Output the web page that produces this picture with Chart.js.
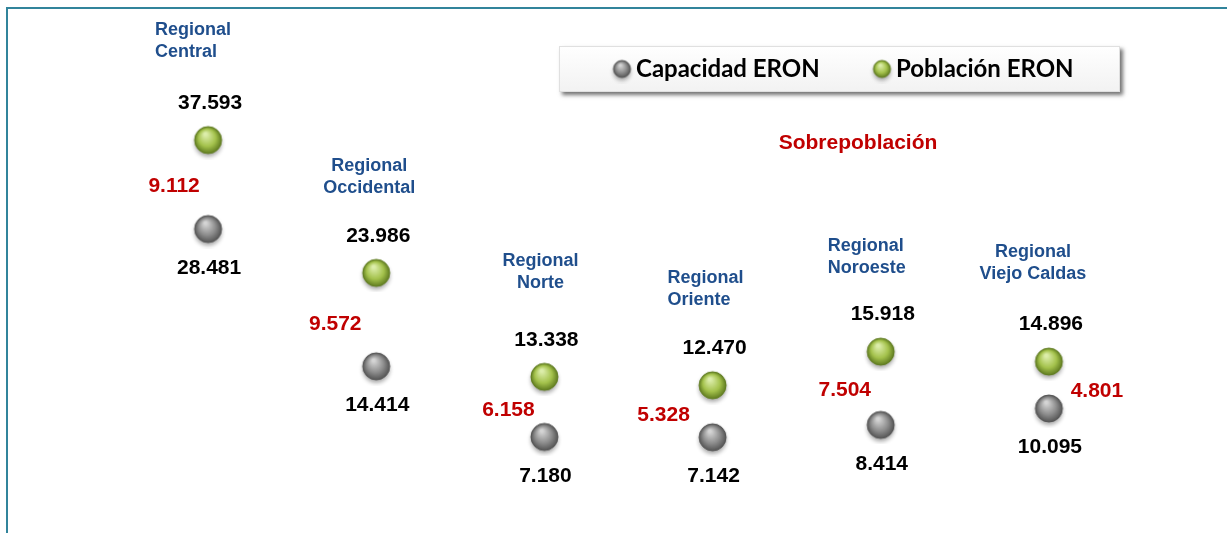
<!DOCTYPE html>
<html>
<head>
<meta charset="utf-8">
<script src="https://cdn.jsdelivr.net/npm/chart.js@4.4.0/dist/chart.umd.min.js"></script>
<style>
  html, body { margin: 0; padding: 0; background: #fff; }
  #wrap { width: 1227px; height: 533px; position: relative; }
</style>
</head>
<body>
<div id="wrap"><canvas id="eronChart"></canvas></div>
<script>
const regionales = [
  ["Regional", "Central"], ["Regional", "Occidental"], ["Regional", "Norte"],
  ["Regional", "Oriente"], ["Regional", "Noroeste"], ["Regional", "Viejo Caldas"]
];
const capacidad = [28481, 14414, 7180, 7142, 8414, 10095];
const poblacion = [37593, 23986, 13338, 12470, 15918, 14896];
const sobrepoblacion = [9112, 9572, 6158, 5328, 7504, 4801];

// where each region title and red label sits, relative to its points
const titlePos = [
  { dx: -53, dy: -110, align: "left" }, { dx: -7, dy: -107, align: "center" },
  { dx: -4, dy: -116, align: "center" }, { dx: -45, dy: -107, align: "left" },
  { dx: -53, dy: -106, align: "left" }, { dx: -16, dy: -110, align: "center" }
];
const diffPos = [
  { dx: -34, dy: 2 }, { dx: -41, dy: 5 }, { dx: -36, dy: 3 },
  { dx: -49, dy: 4 }, { dx: -36, dy: 2 }, { dx: 48, dy: 6 }
];

function fmt(n) {
  return String(n).replace(/\B(?=(\d{3})+(?!\d))/g, ".");
}

function makeSphere(r, light, base, dark) {
  const size = 2 * r + 12;
  const c = document.createElement("canvas");
  c.width = size; c.height = size;
  const g = c.getContext("2d");
  const cx = size / 2, cy = size / 2;
  g.shadowColor = "rgba(0,0,0,0.35)";
  g.shadowBlur = 4;
  g.shadowOffsetY = 3;
  const grad = g.createRadialGradient(cx - r * 0.2, cy - r * 0.45, r * 0.1, cx, cy, r);
  grad.addColorStop(0, light);
  grad.addColorStop(0.6, base);
  grad.addColorStop(1, dark);
  g.fillStyle = grad;
  g.beginPath();
  g.arc(cx, cy, r, 0, Math.PI * 2);
  g.fill();
  g.shadowColor = "transparent";
  g.strokeStyle = dark;
  g.lineWidth = 1;
  g.stroke();
  return c;
}

const graySphere = makeSphere(13.5, "#d4d4d4", "#8c8c8c", "#555555");
const greenSphere = makeSphere(13.5, "#dcedaa", "#a4c24c", "#607c20");
const grayMini = makeSphere(8.5, "#d4d4d4", "#8c8c8c", "#555555");
const greenMini = makeSphere(8.5, "#dcedaa", "#a4c24c", "#607c20");

const framePlugin = {
  id: "frame",
  beforeDraw(chart) {
    const ctx = chart.ctx;
    ctx.save();
    ctx.fillStyle = "#fff";
    ctx.fillRect(0, 0, chart.width, chart.height);
    ctx.strokeStyle = "#31849b";
    ctx.lineWidth = 2;
    ctx.beginPath();
    ctx.moveTo(7, chart.height);
    ctx.lineTo(7, 8);
    ctx.lineTo(chart.width, 8);
    ctx.stroke();
    ctx.restore();
  }
};

const legendPlugin = {
  id: "boxLegend",
  afterDraw(chart) {
    const ctx = chart.ctx;
    const x = 559, y = 46, w = 561, h = 46;
    ctx.save();
    ctx.shadowColor = "rgba(0,0,0,0.55)";
    ctx.shadowBlur = 4;
    ctx.shadowOffsetX = 3;
    ctx.shadowOffsetY = 3;
    const grad = ctx.createLinearGradient(0, y, 0, y + h);
    grad.addColorStop(0, "#ffffff");
    grad.addColorStop(1, "#f2f2f2");
    ctx.fillStyle = grad;
    ctx.fillRect(x, y, w, h);
    ctx.shadowColor = "transparent";
    ctx.strokeStyle = "#e0e0e0";
    ctx.lineWidth = 1;
    ctx.strokeRect(x + 0.5, y + 0.5, w - 1, h - 1);

    ctx.font = "bold 24px Lato";
    ctx.fillStyle = "#000";
    ctx.textBaseline = "middle";
    ctx.textAlign = "left";
    const sprites = [grayMini, greenMini];
    const starts = [622, 882];
    chart.data.datasets.forEach((ds, i) => {
      const s = sprites[i];
      ctx.drawImage(s, starts[i] - s.width / 2, 69 - s.height / 2);
      ctx.fillText(ds.label, starts[i] + 14, 69);
    });
    ctx.restore();
  }
};

const labelPlugin = {
  id: "valueLabels",
  afterDatasetsDraw(chart) {
    const ctx = chart.ctx;
    const cap = chart.getDatasetMeta(0).data;
    const pob = chart.getDatasetMeta(1).data;
    ctx.save();
    ctx.textBaseline = "middle";
    regionales.forEach((name, i) => {
      const gx = pob[i].x, gy = pob[i].y, cy = cap[i].y;

      ctx.font = "bold 21px 'Liberation Sans', Arial";
      ctx.textAlign = "center";
      ctx.fillStyle = "#000";
      ctx.fillText(fmt(poblacion[i]), gx + 2, gy - 37);
      ctx.fillText(fmt(capacidad[i]), gx + 1, cy + 39);

      ctx.fillStyle = "#c00000";
      ctx.fillText(fmt(sobrepoblacion[i]), gx + diffPos[i].dx, (gy + cy) / 2 + diffPos[i].dy);

      const t = titlePos[i];
      ctx.font = "bold 18px 'Liberation Sans', Arial";
      ctx.fillStyle = "#1f4e8c";
      ctx.textAlign = t.align;
      name.forEach((line, k) => {
        ctx.fillText(line, gx + t.dx, gy + t.dy + k * 22);
      });
    });

    ctx.font = "bold 21px 'Liberation Sans', Arial";
    ctx.fillStyle = "#c00000";
    ctx.textAlign = "center";
    ctx.fillText("Sobrepoblación", 858, 143);
    ctx.restore();
  }
};

new Chart(document.getElementById("eronChart"), {
  type: "line",
  data: {
    labels: regionales.map(r => r.join(" ")),
    datasets: [
      { label: "Capacidad ERON", data: capacidad, showLine: false, pointStyle: graySphere },
      { label: "Población ERON", data: poblacion, showLine: false, pointStyle: greenSphere }
    ]
  },
  options: {
    responsive: true,
    maintainAspectRatio: false,
    animation: false,
    layout: { padding: { left: 124, right: 94, top: 19, bottom: 26 } },
    scales: {
      x: { type: "category", display: false, offset: true },
      y: { display: false, min: 0, max: 50000 }
    },
    plugins: {
      legend: { display: false },
      tooltip: { enabled: false }
    }
  },
  plugins: [framePlugin, labelPlugin, legendPlugin]
});
</script>
</body>
</html>
